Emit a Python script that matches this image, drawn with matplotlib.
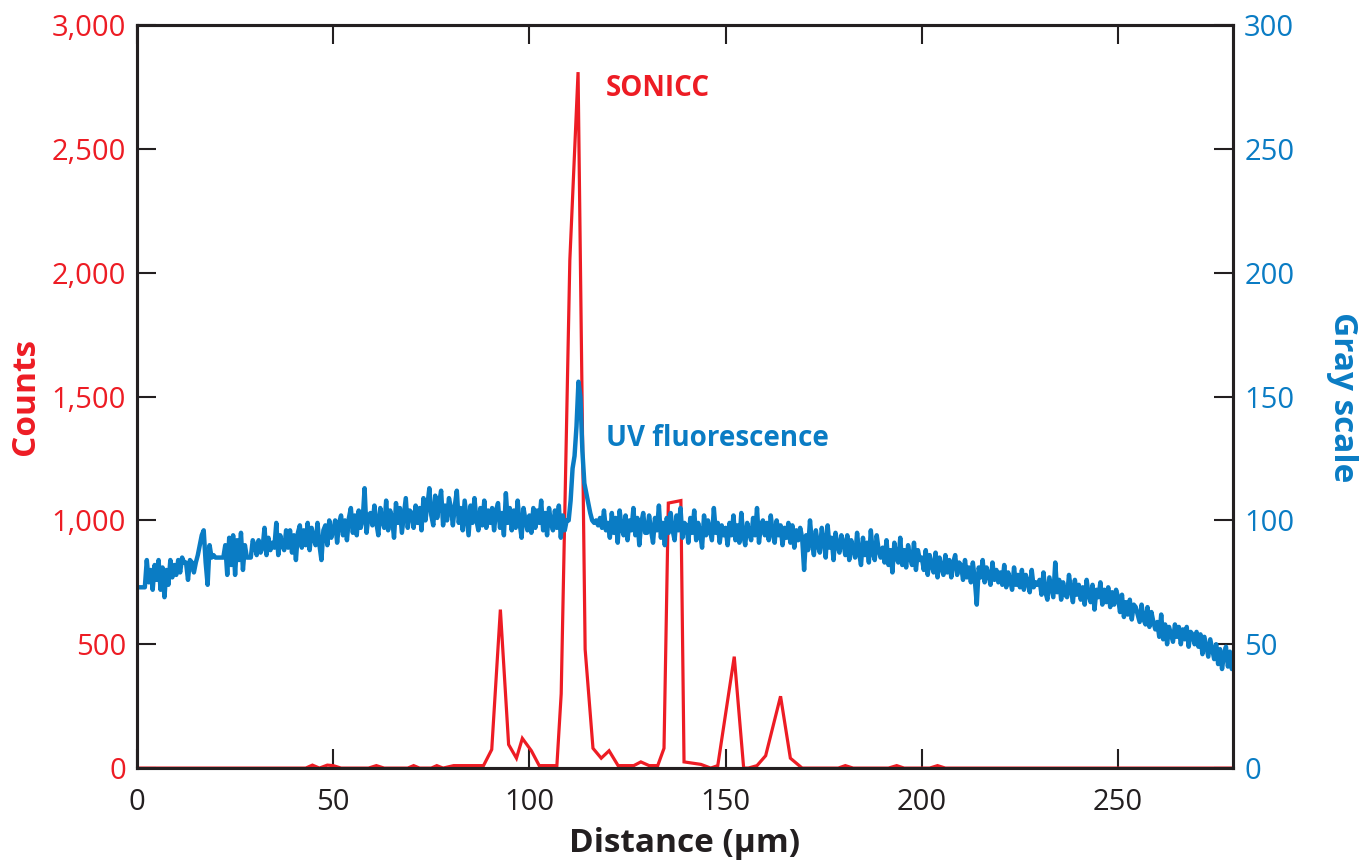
import matplotlib.pyplot as plt
import numpy as np
from matplotlib.ticker import FuncFormatter

plt.rcParams['font.family'] = ['Open Sans', 'DejaVu Sans']

RED = '#ed1c24'
BLUE = '#0a7cc4'
DARK = '#231f20'

# SONICC counts (left axis)
sonicc_x = [0, 43, 44.7, 46.5, 48.5, 50, 52, 59, 61, 63, 69, 70.5, 72, 75, 76.4, 78,
            80.7, 88.3, 90.4, 92.6, 94.7, 96.7, 98.2, 100.5, 102.5, 107, 108.1, 110.3,
            112.4, 114.2, 116.2, 118.3, 120.3, 122.6, 126.6, 128.4, 130.5, 132.7, 134.3,
            135.4, 138.6, 139.4, 143.7, 146.2, 148, 152.2, 154.6, 155.8, 158, 160.2, 164,
            166.5, 169.5, 178.7, 180.5, 182.5, 191.5, 193.6, 195.5, 202, 204, 206, 279.3]
sonicc_counts = [0, 0, 12, 0, 12, 10, 0, 0, 10, 0, 0, 10, 0, 0, 10, 0,
                 10, 10, 75, 640, 95, 40, 120, 70, 10, 10, 300, 2050,
                 2810, 480, 80, 40, 70, 10, 10, 25, 10, 10, 80,
                 1070, 1080, 25, 15, 0, 10, 450, 0, 0, 10, 50, 290,
                 40, 0, 0, 10, 0, 0, 10, 0, 0, 10, 0, 0]

# UV fluorescence gray scale (right axis), one value every 0.5 um from 0
uv_step = 0.5
uv_gray = [
    73, 73, 73, 73, 73, 84, 75, 80, 72, 82, 76, 84, 72, 81, 69, 80, 74, 84, 77, 82,  # 0
    78, 84, 79, 85, 83, 83, 76, 84, 83, 79, 83, 86, 90, 94, 96, 83, 74, 90, 85, 86,  # 10
    85, 85, 85, 85, 85, 90, 78, 93, 82, 94, 78, 92, 84, 95, 80, 90, 85, 85, 85, 92,  # 20
    90, 86, 92, 87, 89, 97, 86, 93, 88, 91, 89, 99, 86, 94, 90, 88, 96, 89, 96, 87,  # 30
    94, 84, 95, 98, 89, 96, 90, 99, 88, 97, 93, 90, 99, 90, 84, 96, 98, 90, 100, 93,  # 40
    96, 100, 91, 99, 102, 94, 100, 92, 101, 105, 95, 102, 94, 104, 97, 100, 113, 95, 102, 103,  # 50
    98, 106, 99, 94, 105, 100, 97, 108, 96, 104, 101, 93, 107, 99, 105, 95, 102, 109, 97, 104,  # 60
    103, 97, 106, 99, 105, 96, 109, 100, 106, 113, 102, 98, 110, 101, 107, 112, 98, 106, 100, 109,  # 70
    105, 98, 106, 112, 99, 105, 96, 108, 101, 94, 106, 99, 109, 100, 96, 105, 98, 108, 97, 104,  # 80
    99, 105, 96, 104, 107, 97, 103, 94, 111, 99, 105, 96, 104, 97, 108, 99, 93, 105, 100, 96,  # 90
    102, 95, 105, 97, 104, 99, 108, 96, 103, 94, 105, 99, 96, 104, 97, 106, 93, 102, 96, 100,  # 100
    100, 108, 121, 126, 138, 156, 150, 128, 115, 111, 107, 103, 100, 99, 100, 98, 101, 97, 104, 96,  # 110
    99, 93, 103, 95, 101, 91, 104, 97, 94, 102, 92, 100, 96, 105, 94, 101, 90, 99, 103, 95,  # 120
    95, 102, 96, 91, 101, 96, 106, 93, 99, 90, 101, 95, 103, 96, 92, 102, 96, 105, 93, 99,  # 130
    98, 91, 101, 95, 104, 92, 99, 95, 89, 102, 94, 100, 96, 92, 105, 95, 99, 91, 98, 94,  # 140
    97, 90, 99, 94, 102, 92, 98, 91, 103, 94, 90, 99, 95, 92, 101, 94, 105, 91, 98, 100,  # 150
    94, 99, 92, 102, 95, 91, 100, 94, 98, 90, 97, 93, 99, 91, 98, 89, 96, 92, 97, 93,  # 160
    80, 94, 88, 100, 91, 86, 96, 90, 87, 97, 92, 85, 98, 89, 93, 84, 95, 90, 87, 94,  # 170
    91, 86, 94, 84, 92, 88, 85, 95, 87, 82, 93, 86, 91, 83, 96, 87, 84, 94, 88, 85,  # 180
    89, 83, 92, 82, 88, 79, 91, 85, 83, 93, 82, 88, 81, 90, 85, 82, 91, 80, 88, 84,  # 190
    85, 80, 88, 78, 86, 82, 79, 87, 77, 85, 81, 78, 86, 79, 84, 77, 83, 86, 78, 83,  # 200
    82, 76, 84, 77, 81, 75, 83, 76, 66, 81, 77, 84, 75, 81, 78, 74, 83, 76, 80, 75,  # 210
    79, 74, 82, 73, 79, 76, 72, 81, 74, 78, 73, 80, 72, 78, 75, 71, 80, 73, 75, 74,  # 220
    76, 70, 79, 71, 68, 77, 73, 69, 83, 71, 76, 68, 75, 70, 69, 78, 72, 67, 76, 70,  # 230
    74, 68, 73, 66, 76, 70, 67, 74, 64, 72, 69, 75, 66, 72, 67, 73, 65, 71, 66, 72,  # 240
    69, 63, 70, 61, 67, 62, 68, 60, 66, 65, 62, 59, 66, 60, 58, 65, 57, 63, 59, 56,  # 250
    59, 53, 62, 52, 58, 50, 57, 54, 51, 58, 53, 57, 50, 56, 52, 57, 49, 55, 54, 50,  # 260
    55, 49, 54, 46, 53, 49, 45, 52, 48, 44, 50, 42, 48, 40, 46, 49, 41, 47, 40, 44,  # 270
]
uv_x = np.arange(len(uv_gray)) * uv_step

x_ticks = [0, 50, 100, 150, 200, 250]
count_ticks = [0, 500, 1000, 1500, 2000, 2500, 3000]
gray_ticks = [0, 50, 100, 150, 200, 250, 300]

fig = plt.figure(figsize=(13.59, 8.64), dpi=100)
ax = fig.add_axes([0.1008, 0.111, 0.8065, 0.86])
ax2 = ax.twinx()

ax.plot(sonicc_x, sonicc_counts, color=RED, lw=2.3, solid_joinstyle='miter')
ax2.plot(uv_x, uv_gray, color=BLUE, lw=3.2)

ax.set_xlim(0, 279.3)
ax.set_ylim(0, 3000)
ax2.set_ylim(0, 300)

ax.set_xticks(x_ticks)
ax.set_yticks(count_ticks)
ax2.set_yticks(gray_ticks)
ax.yaxis.set_major_formatter(FuncFormatter(lambda v, p: '{:,.0f}'.format(v)))

for a in (ax, ax2):
    for s in a.spines.values():
        s.set_color(DARK)
        s.set_linewidth(2.2)

ax.tick_params(axis='x', which='both', direction='in', top=True, bottom=True,
               length=14, width=1.5, color=DARK, labelcolor=DARK, labelsize=21, pad=14)
ax.tick_params(axis='y', direction='in', left=True, right=False, length=14, width=1.5,
               color=DARK, labelcolor=RED, labelsize=21, pad=8)
ax2.tick_params(axis='y', direction='in', right=True, left=False, length=14, width=1.5,
                color=DARK, labelcolor=BLUE, labelsize=21, pad=8)

ax.text(119.5, 2745, 'SONICC', color=RED, fontsize=20, fontweight='bold', va='center', ha='left')
ax2.text(119.5, 133, 'UV fluorescence', color=BLUE, fontsize=20, fontweight='bold',
         va='center', ha='left')

fig.text(25 / 1359, 1 - 397 / 864, 'Counts', color=RED, fontsize=24, fontweight='bold',
         rotation=90, ha='center', va='center')
fig.text(1342 / 1359, 1 - 397 / 864, 'Gray scale', color=BLUE, fontsize=24, fontweight='bold',
         rotation=-90, ha='center', va='center')
fig.text(685 / 1359, 4 / 864, 'Distance (µm)', color=DARK, fontsize=24,
         fontweight='bold', ha='center', va='bottom')

fig.savefig('out.png', dpi=100)
